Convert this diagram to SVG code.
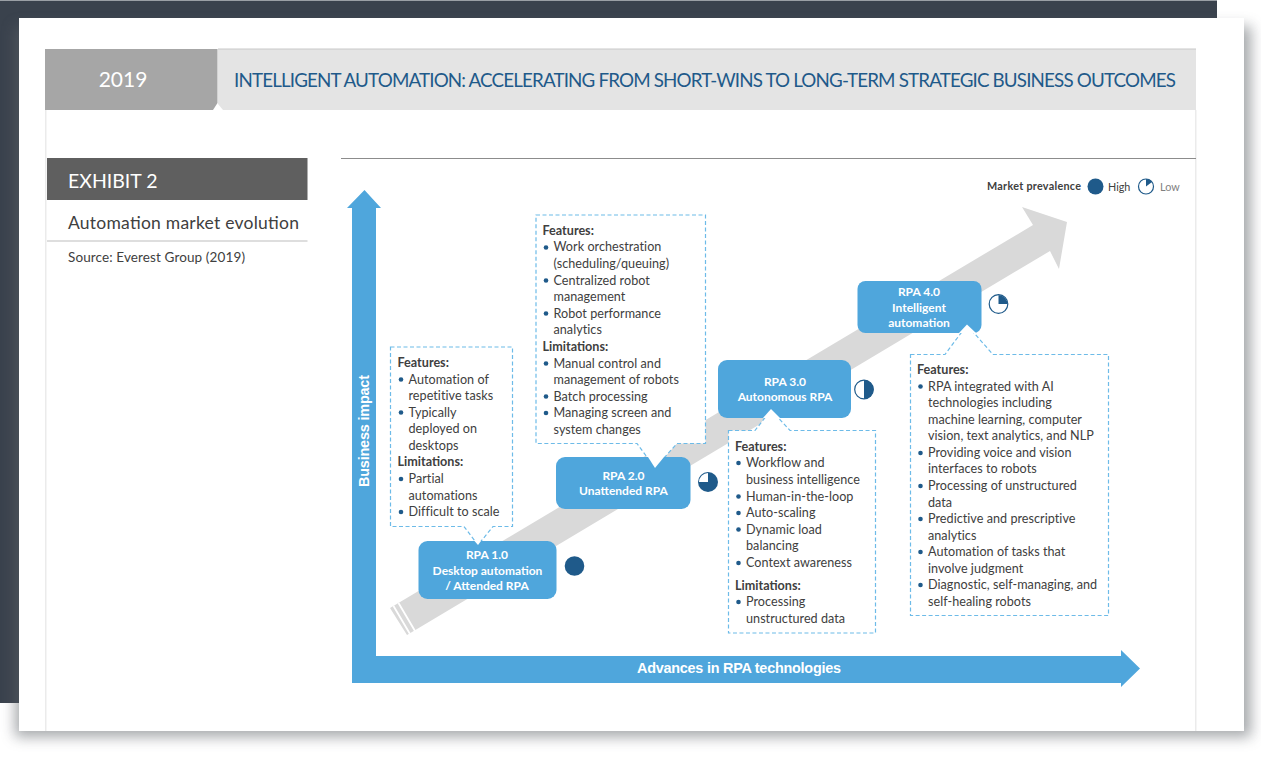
<svg xmlns="http://www.w3.org/2000/svg" width="1261" height="757" viewBox="0 0 1261 757">
<style>
text{font-family:Lato,"Liberation Sans",sans-serif}
.b{font-size:12.6px;fill:#404040;letter-spacing:.04px}
.h{font-size:12.6px;fill:#404040;font-weight:700}
.n{font-size:12px;fill:#fff;font-weight:700;text-anchor:middle}
.a{font-family:"Liberation Sans",Arial,sans-serif;font-size:14.400px;fill:#fff;font-weight:700}
.box{fill:#fff;stroke:#6dbbe8;stroke-width:1.200;stroke-dasharray:4 2.500}
.rpa{fill:#4fa6dc}
.dot{fill:#1f5a8a}
.ring{fill:#fff;stroke:#1f5a8a;stroke-width:1.200}
.w{fill:#fff}
</style>
<defs>
<filter id="sh" x="-5%" y="-5%" width="110%" height="110%"><feGaussianBlur stdDeviation="7"/></filter>
</defs>
<rect width="1261" height="757" fill="#fff"/>
<rect x="0" y="0" width="1217" height="703" fill="#3a424d"/>
<rect x="0" y="0" width="1217" height="1" fill="#9a9fa5"/>
<rect x="15" y="26" width="1236" height="711" fill="#5d6268" opacity=".55" filter="url(#sh)"/>
<rect x="19" y="18" width="1225" height="713" fill="#fff"/>
<rect x="45" y="110" width="1.500" height="621" fill="#ebebeb"/>
<rect x="1195" y="110" width="1.500" height="621" fill="#ebebeb"/>
<g id="header">
<path d="M218 49H1196V110H223L218 104Z" fill="#e4e4e4"/>
<path d="M218 49H1196" stroke="#c8c8c8" fill="none"/>
<path d="M45 49H217.500V103L213 110H45Z" fill="#a6a6a6"/>
<text x="123" y="87" font-size="21" fill="#fff" text-anchor="middle">2019</text>
<text x="234" y="87" font-size="18.800" fill="#1f5a8a" textLength="942" lengthAdjust="spacing">INTELLIGENT AUTOMATION: ACCELERATING FROM SHORT-WINS TO LONG-TERM STRATEGIC BUSINESS OUTCOMES</text>
</g>
<g id="exhibit">
<rect x="47" y="158" width="260.500" height="42" fill="#5f5f5f"/>
<text x="68" y="187.500" font-size="19.500" fill="#fff">EXHIBIT 2</text>
<text x="68" y="228.500" font-size="17.500" fill="#404040" textLength="231" lengthAdjust="spacing">Automation market evolution</text>
<path d="M47 241H307.500" stroke="#bdbdbd" stroke-width="1"/>
<text x="68" y="262" font-size="13.500" fill="#404040" textLength="177" lengthAdjust="spacing">Source: Everest Group (2019)</text>
<path d="M341 158.500H1196" stroke="#8c8c8c" stroke-width="1"/>
</g>
<g id="legend">
<text x="987" y="190" font-size="10.800" font-weight="700" fill="#404040" textLength="94" lengthAdjust="spacing">Market prevalence</text>
<circle class="dot" cx="1095.500" cy="186.500" r="8"/>
<text x="1108" y="190.500" font-size="10.800" fill="#404040">High</text>
<circle class="ring" cx="1146" cy="186.500" r="7.500"/>
<path class="dot" d="M1146 186.500V179A7.500 7.500 0 0 1 1152 182Z"/>
<text x="1160" y="190.500" font-size="10.800" fill="#7f7f7f">Low</text>
</g>
<g id="connectors">
<path d="M390 608L1033 225L1022 207L1067 222L1059 269L1050 251L407 635Z" fill="#d9d9d9"/>
<path d="M393.500 606L410 634M398.500 603L415 631" stroke="#fff" stroke-width="1.800"/>
<path class="rpa" d="M352 683V208H347L364.500 190L381 208H376V656H1121V650L1140 668.500L1121 687V683Z"/>
<text class="a" transform="translate(369,487) rotate(-90)" textLength="112" lengthAdjust="spacing">Business impact</text>
<text class="a" x="637" y="673" textLength="204" lengthAdjust="spacing">Advances in RPA technologies</text>
</g>
<g id="rpa1">
<path class="box" d="M390.500 347H512.500V526.500H493L478 545L464 526.500H390.500Z"/>
<rect class="rpa" x="418.500" y="541" width="138" height="58" rx="9"/>
<path class="w" d="M474.500 541H481L478 545Z"/>
<text class="n" x="487" y="559">RPA 1.0</text>
<text class="n" x="487.500" y="575">Desktop automation</text>
<text class="n" x="487" y="590">/ Attended RPA</text>
<circle class="dot" cx="574.500" cy="566" r="9.800"/>
<text class="h" x="397.500" y="367">Features:</text>
<circle class="dot" cx="401" cy="379.500" r="2.300"/><text class="b" x="408.500" y="383.500">Automation of</text>
<text class="b" x="408.500" y="400">repetitive tasks</text>
<circle class="dot" cx="401" cy="412.500" r="2.300"/><text class="b" x="408.500" y="416.500">Typically</text>
<text class="b" x="408.500" y="433">deployed on</text>
<text class="b" x="408.500" y="450">desktops</text>
<text class="h" x="397.500" y="466">Limitations:</text>
<circle class="dot" cx="401" cy="479" r="2.300"/><text class="b" x="408.500" y="483">Partial</text>
<text class="b" x="408.500" y="499.500">automations</text>
<circle class="dot" cx="401" cy="512" r="2.300"/><text class="b" x="408.500" y="516">Difficult to scale</text>
</g>
<g id="rpa2">
<path class="box" d="M536 215H705.500V443.500H677L655 468L637 443.500H536Z"/>
<rect class="rpa" x="556" y="457" width="134.500" height="52" rx="9"/>
<path class="w" d="M648 457H664L655 468Z"/>
<text class="n" x="623.500" y="480">RPA 2.0</text>
<text class="n" x="623.500" y="495">Unattended RPA</text>
<circle class="dot" cx="708" cy="482" r="10"/>
<path fill="#fff" d="M708 482H699A9 9 0 0 1 708 473Z"/>
<text class="h" x="542.500" y="235">Features:</text>
<circle class="dot" cx="546" cy="247.500" r="2.300"/><text class="b" x="553.500" y="251">Work orchestration</text>
<text class="b" x="553.500" y="268">(scheduling/queuing)</text>
<circle class="dot" cx="546" cy="280.500" r="2.300"/><text class="b" x="553.500" y="284.500">Centralized robot</text>
<text class="b" x="553.500" y="301">management</text>
<circle class="dot" cx="546" cy="313.500" r="2.300"/><text class="b" x="553.500" y="318">Robot performance</text>
<text class="b" x="553.500" y="334">analytics</text>
<text class="h" x="542.500" y="350.500">Limitations:</text>
<circle class="dot" cx="546" cy="363.500" r="2.300"/><text class="b" x="553.500" y="367.500">Manual control and</text>
<text class="b" x="553.500" y="384">management of robots</text>
<circle class="dot" cx="546" cy="396.500" r="2.300"/><text class="b" x="553.500" y="400.500">Batch processing</text>
<circle class="dot" cx="546" cy="413" r="2.300"/><text class="b" x="553.500" y="417">Managing screen and</text>
<text class="b" x="553.500" y="434">system changes</text>
</g>
<g id="rpa3">
<path class="box" d="M728.500 430.500H755L771 410L790 430.500H875.500V633H728.500Z"/>
<rect class="rpa" x="718" y="360" width="133" height="58" rx="9"/>
<path class="w" d="M763 418H780L771 409Z"/>
<text class="n" x="785" y="385.500">RPA 3.0</text>
<text class="n" x="785" y="401">Autonomous RPA</text>
<circle class="ring" cx="864" cy="389.500" r="9.300"/>
<path class="dot" d="M864 380A9.500 9.500 0 0 1 864 399Z"/>
<text class="h" x="735" y="450.500">Features:</text>
<circle class="dot" cx="738.500" cy="463" r="2.300"/><text class="b" x="746" y="467">Workflow and</text>
<text class="b" x="746" y="483.500">business intelligence</text>
<circle class="dot" cx="738.500" cy="496.500" r="2.300"/><text class="b" x="746" y="500.500">Human-in-the-loop</text>
<circle class="dot" cx="738.500" cy="513" r="2.300"/><text class="b" x="746" y="517">Auto-scaling</text>
<circle class="dot" cx="738.500" cy="529.500" r="2.300"/><text class="b" x="746" y="533.500">Dynamic load</text>
<text class="b" x="746" y="550">balancing</text>
<circle class="dot" cx="738.500" cy="563" r="2.300"/><text class="b" x="746" y="567">Context awareness</text>
<text class="h" x="735" y="589.500">Limitations:</text>
<circle class="dot" cx="738.500" cy="602" r="2.300"/><text class="b" x="746" y="606">Processing</text>
<text class="b" x="746" y="623">unstructured data</text>
</g>
<g id="rpa4">
<path class="box" d="M910.500 354.500H945L967 325L993 354.500H1108.500V615.500H910.500Z"/>
<rect class="rpa" x="857.500" y="281" width="124" height="52" rx="8"/>
<path class="w" d="M959 333H976L967 324.500Z"/>
<text class="n" x="919" y="296">RPA 4.0</text>
<text class="n" x="919" y="311.500">Intelligent</text>
<text class="n" x="919" y="326.500">automation</text>
<circle class="ring" cx="998.500" cy="304" r="9.300"/>
<path class="dot" d="M998.500 304V295A9.300 9.300 0 0 1 1007.500 304Z"/>
<text class="h" x="917" y="374">Features:</text>
<circle class="dot" cx="920.500" cy="386.500" r="2.300"/><text class="b" x="928" y="390.500">RPA integrated with AI</text>
<text class="b" x="928" y="407">technologies including</text>
<text class="b" x="928" y="423.500">machine learning, computer</text>
<text class="b" x="928" y="440">vision, text analytics, and NLP</text>
<circle class="dot" cx="920.500" cy="453" r="2.300"/><text class="b" x="928" y="457">Providing voice and vision</text>
<text class="b" x="928" y="473">interfaces to robots</text>
<circle class="dot" cx="920.500" cy="486" r="2.300"/><text class="b" x="928" y="490">Processing of unstructured</text>
<text class="b" x="928" y="506.500">data</text>
<circle class="dot" cx="920.500" cy="519" r="2.300"/><text class="b" x="928" y="523">Predictive and prescriptive</text>
<text class="b" x="928" y="539.500">analytics</text>
<circle class="dot" cx="920.500" cy="552" r="2.300"/><text class="b" x="928" y="556">Automation of tasks that</text>
<text class="b" x="928" y="572.500">involve judgment</text>
<circle class="dot" cx="920.500" cy="585" r="2.300"/><text class="b" x="928" y="589">Diagnostic, self-managing, and</text>
<text class="b" x="928" y="605.500">self-healing robots</text>
</g>
</svg>
